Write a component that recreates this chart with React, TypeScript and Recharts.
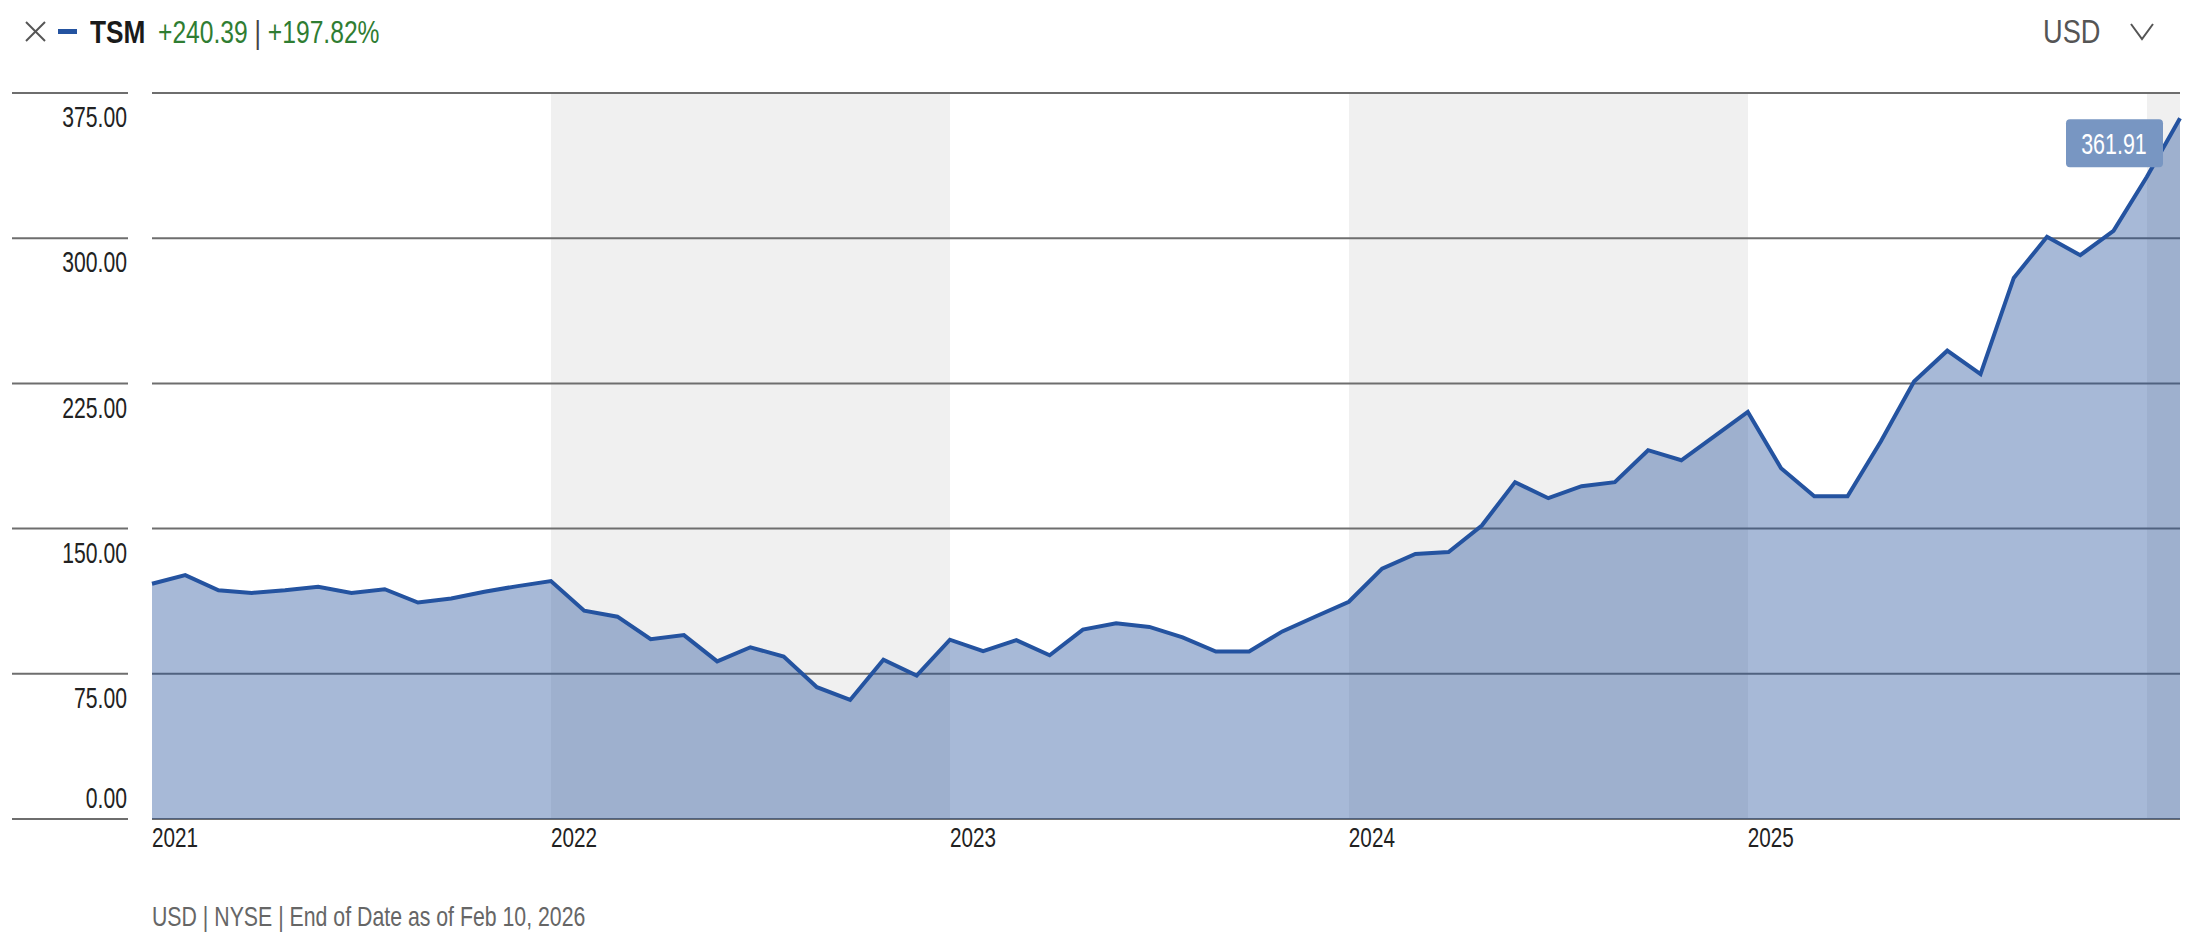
import React from "react";
import { AreaChart, Area, XAxis, YAxis, CartesianGrid, LabelList } from "recharts";

// monthly closes, Jan 2021 .. Feb 2026
const closePrices = [
  121.52, 126.0, 118.1, 116.8, 118.2, 120.0, 116.8, 118.7, 111.8, 113.9, 117.4, 120.3,
  122.9, 107.6, 104.5, 92.9, 95.0, 81.4, 88.7, 83.9, 68.1, 61.5, 82.3, 74.1,
  92.6, 86.7, 92.4, 84.6, 97.8, 101.1, 99.2, 93.8, 86.5, 86.5, 96.9, 104.6,
  112.2, 129.3, 136.9, 137.9, 151.6, 174.0, 165.7, 171.9, 174.0, 190.5, 185.3, 197.8,
  210.3, 181.2, 166.7, 166.7, 195.0, 226.0, 241.9, 229.8, 279.5, 300.7, 291.2, 303.8,
  331.6, 361.91,
];

const yearTickIndex = [0, 12, 24, 36, 48, 60];
const yearLabels = ["2021", "2022", "2023", "2024", "2025", ""];
const priceTicks = [0, 75, 150, 225, 300, 375];

const ticker = "TSM";
const changeAbs = "+240.39";
const changePct = "+197.82%";
const currency = "USD";
const footerNote = "USD | NYSE | End of Date as of Feb 10, 2026";

// no condensed face installed, so squeeze Liberation Sans horizontally
const FONT = '"Liberation Sans", Arial, sans-serif';
const LINE_BLUE = "#2453a0";
const GRID = "#6e6e6e";

const data = closePrices.map((close, i) => ({ idx: i, close }));

function Narrow({ children, scale, style }: any) {
  return (
    <span style={{ display: "inline-block", transform: `scaleX(${scale})`, transformOrigin: "0 50%", whiteSpace: "nowrap", ...style }}>
      {children}
    </span>
  );
}

function PriceTick(props: any) {
  const { y, payload } = props;
  const ty = payload.value === 0 ? y - 21 : y + 24;
  return (
    <g>
      <line x1={12} x2={128} y1={y} y2={y} stroke={GRID} strokeWidth={2} />
      <text
        transform={`translate(127,${ty}) scale(0.73,1)`}
        textAnchor="end"
        dominantBaseline="central"
        fontFamily={FONT}
        fontSize={29}
        fill="#222"
      >
        {payload.value.toFixed(2)}
      </text>
    </g>
  );
}

function YearTick(props: any) {
  const { x, payload } = props;
  const label = yearLabels[yearTickIndex.indexOf(payload.value)];
  if (!label) return null;
  return (
    <text
      transform={`translate(${x},837) scale(0.74,1)`}
      dominantBaseline="central"
      fontFamily={FONT}
      fontSize={28}
      fill="#222"
    >
      {label}
    </text>
  );
}

function LastValueBadge(props: any) {
  const { x, y, value, index } = props;
  if (index !== closePrices.length - 1) return null;
  return (
    <g>
      <rect x={x - 114} y={y + 1} width={97} height={48} rx={4} fill="#7896c2" />
      <text
        transform={`translate(${x - 66},${y + 25}) scale(0.74,1)`}
        textAnchor="middle"
        dominantBaseline="central"
        fontFamily={FONT}
        fontSize={29}
        fill="#fff"
      >
        {Number(value).toFixed(2)}
      </text>
    </g>
  );
}

export default function App() {
  return (
    <div style={{ position: "absolute", left: 0, top: 0, width: 2206, height: 942, background: "#fff", fontFamily: FONT }}>
      <AreaChart width={2206} height={942} data={data} margin={{ top: 93, right: 26, bottom: 0, left: 0 }}>
        <CartesianGrid vertical horizontal={false} stroke="none" verticalFill={["none", "#f0f0f0"]} />
        <CartesianGrid vertical={false} stroke={GRID} strokeWidth={2} strokeDasharray="" />
        <XAxis
          type="number"
          dataKey="idx"
          domain={[0, closePrices.length - 1]}
          ticks={yearTickIndex}
          height={123}
          axisLine={false}
          tickLine={false}
          tick={<YearTick />}
          interval={0}
        />
        <YAxis
          type="number"
          domain={[0, 375]}
          ticks={priceTicks}
          width={152}
          axisLine={false}
          tickLine={false}
          tick={<PriceTick />}
          interval={0}
        />
        <Area
          type="linear"
          dataKey="close"
          stroke={LINE_BLUE}
          strokeWidth={4}
          fill="rgb(35,80,155)"
          fillOpacity={0.4}
          dot={false}
          activeDot={false}
          isAnimationActive={false}
        >
          <LabelList dataKey="close" content={<LastValueBadge />} />
        </Area>
      </AreaChart>

      {/* header */}
      <svg width={60} height={60} style={{ position: "absolute", left: 20, top: 16 }}>
        <line x1={6} y1={6} x2={25} y2={25} stroke="#555" strokeWidth={2} />
        <line x1={25} y1={6} x2={6} y2={25} stroke="#555" strokeWidth={2} />
        <rect x={38} y={13} width={19} height={5} fill={LINE_BLUE} />
      </svg>
      <div style={{ position: "absolute", left: 90, top: 12, fontSize: 32, lineHeight: "40px" }}>
        <Narrow scale={0.82} style={{ fontWeight: 700, color: "#1a1a1a" }}>{ticker}</Narrow>
      </div>
      <div style={{ position: "absolute", left: 158, top: 12, fontSize: 32, lineHeight: "40px", color: "#2f7d32" }}>
        <Narrow scale={0.77}>
          {changeAbs} <span style={{ color: "#444" }}>|</span> {changePct}
        </Narrow>
      </div>
      <div style={{ position: "absolute", left: 2043, top: 10, fontSize: 34, lineHeight: "42px", color: "#555" }}>
        <Narrow scale={0.8}>{currency}</Narrow>
      </div>
      <svg width={30} height={30} style={{ position: "absolute", left: 2128, top: 18 }}>
        <polyline points="3,6 14,21 25,6" fill="none" stroke="#555" strokeWidth={2} />
      </svg>

      {/* footer */}
      <div style={{ position: "absolute", left: 152, top: 902, fontSize: 28, lineHeight: "30px", color: "#666" }}>
        <Narrow scale={0.76}>{footerNote}</Narrow>
      </div>
    </div>
  );
}
